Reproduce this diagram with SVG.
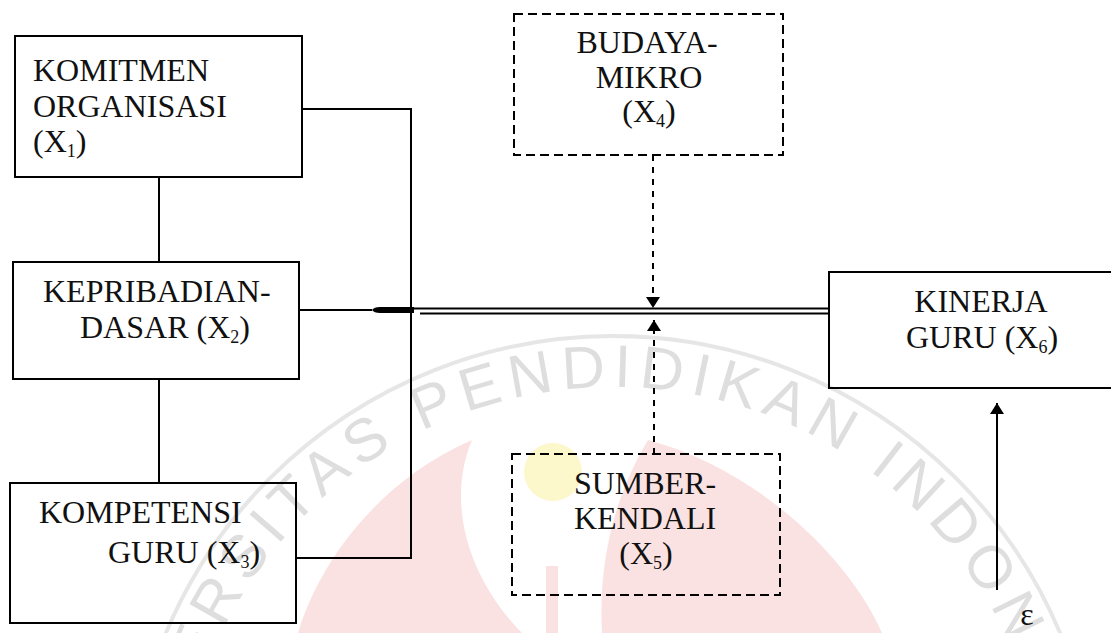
<svg xmlns="http://www.w3.org/2000/svg" xmlns:xlink="http://www.w3.org/1999/xlink" width="1111" height="633" viewBox="0 0 1111 633">
<style>
.box{fill:none;stroke:#000;stroke-width:2}
.dbox{fill:none;stroke:#000;stroke-width:2;stroke-dasharray:9 5}
.ln{fill:none;stroke:#000;stroke-width:2}
.dln{fill:none;stroke:#000;stroke-width:2;stroke-dasharray:6 6}
.t{font-family:"Liberation Serif","Times New Roman",serif;font-size:32px;fill:#111}
.m{text-anchor:middle}
.s{font-size:18px}
.wm{font-family:"Liberation Sans",Arial,sans-serif;font-size:60px;fill:#dedede;letter-spacing:8px}
</style>
<defs>
<marker id="ah" viewBox="0 0 11 14" refX="11" refY="7" markerWidth="11" markerHeight="14" markerUnits="userSpaceOnUse" orient="auto">
<path d="M0,0 L11,7 L0,14 Z" fill="#000" stroke="none"/>
</marker>
<path id="ring" d="M179,821 A434,434 0 1,1 1047,821 A434,434 0 1,1 179,821"/>
</defs>
<rect width="1111" height="633" fill="#fff"/>
<g id="watermark">
<path d="M298,633 C320,560 380,480 472,440 C445,505 470,580 522,633 Z" fill="#fbe2e2"/>
<path d="M648,440 C760,470 850,560 882,633 L602,633 C598,560 615,495 648,440 Z" fill="#fbe2e2"/>
<rect x="546" y="566" width="12" height="67" fill="#fbe2e2"/>
<circle cx="553" cy="472" r="29" fill="#fdf7cc"/>
<circle cx="613" cy="821" r="485" fill="none" stroke="#e6e6e6" stroke-width="4"/>
<text class="wm"><textPath xlink:href="#ring" startOffset="24.44%" text-anchor="middle">UNIVERSITAS PENDIDIKAN INDONESIA</textPath></text>
</g>
<g id="connectors">
<polyline class="ln" points="302,109 411,109 411,558 296,558"/>
<line class="ln" x1="159" y1="177" x2="159" y2="262"/>
<line class="ln" x1="159" y1="379" x2="159" y2="483"/>
<line class="ln" x1="299" y1="310" x2="372" y2="310"/>
<path d="M372,310 Q374,307 380,307 L414,307 L414,313 L380,313 Q374,313 372,310 Z" fill="#000"/>
<line class="ln" x1="411" y1="308.5" x2="829" y2="308.5"/>
<line class="ln" x1="420" y1="313.5" x2="829" y2="313.5"/>
<line class="dln" x1="653" y1="155" x2="653" y2="308" marker-end="url(#ah)"/>
<line class="dln" x1="654" y1="454" x2="654" y2="320" marker-end="url(#ah)"/>
<line class="ln" x1="997" y1="590" x2="997" y2="403" marker-end="url(#ah)"/>
</g>
<g id="x1">
<rect class="box" x="15" y="36" width="287" height="141"/>
<text class="t" x="33" y="81">KOMITMEN</text>
<text class="t" x="33" y="117">ORGANISASI</text>
<text class="t" x="33" y="152">(X<tspan class="s" dy="5">1</tspan><tspan dy="-5">)</tspan></text>
</g>
<g id="x2">
<rect class="box" x="13" y="262" width="286" height="117"/>
<text class="t" x="43" y="302">KEPRIBADIAN-</text>
<text class="t" x="80" y="338">DASAR (X<tspan class="s" dy="5">2</tspan><tspan dy="-5">)</tspan></text>
</g>
<g id="x3">
<rect class="box" x="10" y="483" width="286" height="140"/>
<text class="t" x="39" y="523">KOMPETENSI</text>
<text class="t" x="108" y="563">GURU (X<tspan class="s" dy="5">3</tspan><tspan dy="-5">)</tspan></text>
</g>
<g id="x4">
<rect class="dbox" x="514" y="14" width="269" height="141"/>
<text class="t m" x="647" y="53">BUDAYA-</text>
<text class="t m" x="649" y="88">MIKRO</text>
<text class="t m" x="649" y="122">(X<tspan class="s" dy="5">4</tspan><tspan dy="-5">)</tspan></text>
</g>
<g id="x5">
<rect class="dbox" x="512" y="454" width="268" height="141"/>
<text class="t m" x="645" y="494">SUMBER-</text>
<text class="t m" x="645" y="529">KENDALI</text>
<text class="t m" x="646" y="564">(X<tspan class="s" dy="5">5</tspan><tspan dy="-5">)</tspan></text>
</g>
<g id="x6">
<rect class="box" x="829" y="272" width="300" height="116"/>
<text class="t m" x="981" y="312">KINERJA</text>
<text class="t m" x="982" y="348">GURU (X<tspan class="s" dy="5">6</tspan><tspan dy="-5">)</tspan></text>
</g>
<g id="epsilon">
<text class="t m" x="1027" y="625" font-size="32">ε</text>
</g>
</svg>
